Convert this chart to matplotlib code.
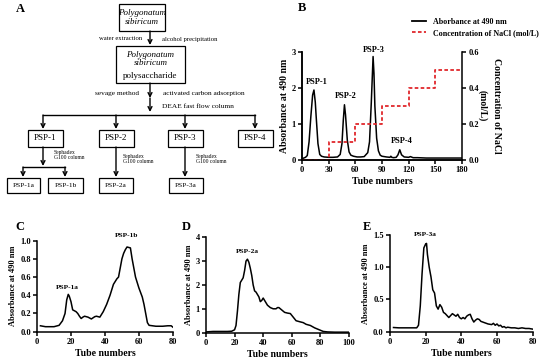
import numpy as np
import matplotlib
matplotlib.use('Agg')
import matplotlib.pyplot as plt
from matplotlib.lines import Line2D
from matplotlib.patches import Rectangle

plt.rcParams['font.family'] = ['Liberation Serif', 'DejaVu Serif']
plt.rcParams['font.weight'] = 'bold'
plt.rcParams['axes.linewidth'] = 1.1

# ---- panel B: DEAE elution ----
b_tube = [0, 2, 4, 6, 8, 10, 12, 13.5, 15, 16, 18, 20, 22, 25, 30, 35, 40, 43, 45, 46.5, 47.8, 49,
          51, 53, 55, 58, 62, 66, 70, 74, 76, 78, 80, 81, 82, 84, 86, 88, 90, 95, 99, 100, 101,
          103, 106, 108, 110, 112, 115, 120, 122, 125, 130, 140, 150, 160, 170, 180]
b_abs = [0.03, 0.05, 0.07, 0.12, 0.5, 1.2, 1.8, 1.94, 1.6, 1.2, 0.45, 0.15, 0.1, 0.08, 0.07, 0.07, 0.08,
         0.15, 0.45, 1.1, 1.53, 1.25, 0.55, 0.22, 0.13, 0.1, 0.08, 0.08, 0.09, 0.2, 0.5, 1.6, 2.87,
         2.4, 1.5, 0.6, 0.25, 0.13, 0.1, 0.08, 0.07, 0.1, 0.07, 0.06, 0.07, 0.14, 0.28, 0.14, 0.08,
         0.07, 0.09, 0.06, 0.06, 0.05, 0.05, 0.05, 0.05, 0.05]
nacl_tube = [0, 30, 30, 60, 60, 90, 90, 120, 120, 150, 150, 180]
nacl_conc = [0, 0, 0.1, 0.1, 0.2, 0.2, 0.3, 0.3, 0.4, 0.4, 0.5, 0.5]
b_peaks = ['PSP-1', 'PSP-2', 'PSP-3', 'PSP-4']
b_peak_x = [17, 49, 81, 112]
b_peak_y = [2.05, 1.65, 2.95, 0.42]

# ---- panel C: PSP-1 on Sephadex ----
c_tube = [2, 5, 10, 13, 15, 16.5, 17.5, 18.4, 19, 20, 21, 23, 24, 25, 26, 27, 28, 30, 32, 34, 35, 37,
          39, 41, 43, 45, 47, 48, 49, 50, 51, 52, 53, 55, 56, 58, 60, 62, 63, 64, 65, 66, 68, 70,
          74, 77, 79, 80]
c_abs = [0.065, 0.055, 0.055, 0.07, 0.12, 0.2, 0.35, 0.41, 0.39, 0.33, 0.24, 0.22, 0.2, 0.17, 0.145,
         0.16, 0.17, 0.16, 0.14, 0.165, 0.17, 0.16, 0.22, 0.3, 0.4, 0.52, 0.58, 0.6, 0.7, 0.8, 0.86,
         0.9, 0.93, 0.92, 0.8, 0.6, 0.48, 0.38, 0.3, 0.2, 0.1, 0.07, 0.065, 0.06, 0.06, 0.065,
         0.065, 0.05]

# ---- panel D: PSP-2 on Sephadex ----
d_tube = [0, 5, 10, 15, 18, 20, 21, 22, 23, 24, 26, 27, 28, 29, 30, 31, 32, 33, 34, 35, 36, 37, 38,
          39, 40, 41, 43, 45, 47, 49, 50, 51, 53, 55, 57, 59, 61, 63, 66, 68, 70, 73, 76, 78, 80,
          82, 85, 90, 95, 100]
d_abs = [0.03, 0.05, 0.05, 0.05, 0.06, 0.12, 0.3, 0.9, 1.6, 2.1, 2.3, 2.6, 3.0, 3.08, 2.95, 2.7,
         2.4, 2.0, 1.75, 1.7, 1.6, 1.5, 1.3, 1.35, 1.45, 1.35, 1.15, 1.05, 1.0, 1.0, 1.05, 1.05,
         0.95, 0.85, 0.82, 0.8, 0.65, 0.5, 0.45, 0.42, 0.35, 0.3, 0.2, 0.15, 0.1, 0.05, 0.03,
         0.02, 0.02, 0.02]

# ---- panel E: PSP-3 on Sephadex ----
e_tube = [2, 5, 10, 15, 16, 17, 18, 19, 20, 20.5, 21, 22, 23, 24, 25, 26, 27, 28, 29, 30, 31, 32,
          33, 34, 35, 36, 37, 38, 39, 40, 41, 42, 43, 44, 45, 46, 47, 48, 49, 50, 51, 53, 55, 57,
          58, 59, 60, 61, 62, 63, 64, 65, 66, 68, 70, 72, 74, 76, 78, 80]
e_abs = [0.065, 0.06, 0.06, 0.06, 0.1, 0.4, 0.9, 1.3, 1.36, 1.37, 1.2, 1.0, 0.85, 0.65, 0.6, 0.4,
         0.35, 0.42, 0.38, 0.3, 0.28, 0.25, 0.22, 0.25, 0.28, 0.26, 0.24, 0.27, 0.22, 0.2, 0.22,
         0.2, 0.24, 0.26, 0.27, 0.2, 0.15, 0.18, 0.2, 0.19, 0.16, 0.14, 0.12, 0.11, 0.13, 0.1,
         0.12, 0.09, 0.1, 0.07, 0.08, 0.06, 0.07, 0.06, 0.06, 0.05, 0.06, 0.05, 0.05, 0.04]

RED = '#e0282c'
TICK_FS = 6
LAB_FS = 7


def style_axis(ax):
    for s in ['top', 'right']:
        ax.spines[s].set_visible(False)
    ax.tick_params(direction='out', length=3, width=1.1, labelsize=TICK_FS, pad=1.5)
    for t in ax.get_xticklabels() + ax.get_yticklabels():
        t.set_fontweight('bold')


fig = plt.figure(figsize=(5.5, 3.6), dpi=100)

# ---- panel A: flowchart drawn in pixel coordinates ----
fa = fig.add_axes([0, 0, 1, 1])
fa.set_xlim(0, 550)
fa.set_ylim(360, 0)
fa.axis('off')


def box(x0, y0, x1, y1):
    fa.add_patch(Rectangle((x0, y0), x1 - x0, y1 - y0, fill=False, lw=0.9, ec='black'))


def arrow(x, y0, y1):
    fa.annotate('', xy=(x, y1), xytext=(x, y0),
                arrowprops=dict(arrowstyle='->', lw=1.0, color='black', shrinkA=0, shrinkB=0,
                                mutation_scale=7))


nb = dict(fontweight='normal', ha='center', va='center')
box(119, 4, 165, 31)
fa.text(142, 17.5, 'Polygonatum\nsibiricum', fontsize=6.5, style='italic', linespacing=1.1, **nb)
arrow(150, 31, 45)
fa.text(121, 39, 'water extraction', fontsize=4.8, **nb)
fa.text(190, 39, 'alcohol precipitation', fontsize=4.8, **nb)
box(116, 46, 185, 83)
fa.text(150.5, 59, 'Polygonatum\nsibiricum', fontsize=6.5, style='italic', linespacing=1.1, **nb)
fa.text(150.5, 76, 'polysaccharide', fontsize=6.5, **nb)
arrow(150, 83, 98)
fa.text(117, 93, 'sevage method', fontsize=5.3, **nb)
fa.text(204, 93, 'activated carbon adsorption', fontsize=5.3, **nb)
arrow(150, 98, 112)
fa.text(198, 107, 'DEAE fast flow column', fontsize=5.3, **nb)
fa.plot([43, 255], [115, 115], color='black', lw=1.0)
for xx in [43, 116, 185, 255]:
    arrow(xx, 115, 129)
for xx, lab in zip([45, 116, 185, 255], ['PSP-1', 'PSP-2', 'PSP-3', 'PSP-4']):
    box(xx - 17.5, 130, xx + 17.5, 147)
    fa.text(xx, 138.5, lab, fontsize=6.5, **nb)
arrow(43, 147, 166)
fa.plot([23, 65], [167, 167], color='black', lw=1.0)
arrow(23, 167, 177)
arrow(65, 167, 177)
arrow(116, 147, 177)
arrow(185, 147, 177)
for x0, x1, lab in [(7, 40, 'PSP-1a'), (48, 83, 'PSP-1b'), (99, 133, 'PSP-2a'), (169, 203, 'PSP-3a')]:
    box(x0, 178, x1, 193)
    fa.text((x0 + x1) / 2, 185.5, lab, fontsize=5.3, **nb)
for xx, yy in [(54, 155), (123, 159), (196, 159)]:
    fa.text(xx, yy, 'Sephadex\nG100 column', fontsize=4.0, fontweight='normal', ha='left',
            va='center', linespacing=1.1)
fa.text(20, 9, 'A', fontsize=9, fontweight='bold', ha='center', va='center')
fa.text(302, 8, 'B', fontsize=9, fontweight='bold', ha='center', va='center')
fa.text(20, 227, 'C', fontsize=9, fontweight='bold', ha='center', va='center')
fa.text(186, 227, 'D', fontsize=9, fontweight='bold', ha='center', va='center')
fa.text(367, 227, 'E', fontsize=9, fontweight='bold', ha='center', va='center')

# ---- panel B ----
axb = fig.add_axes([0.549, 0.556, 0.291, 0.3])
axb.plot(b_tube, b_abs, color='black', lw=1.1)
axb.set_xlim(0, 180)
axb.set_ylim(0, 3)
axb.set_xticks(np.arange(0, 181, 30))
axb.set_yticks([0, 1, 2, 3])
axb.set_ylabel('Absorbance at 490 nm', fontsize=LAB_FS, fontweight='bold', labelpad=2)
axb.set_xlabel('Tube numbers', fontsize=LAB_FS, fontweight='bold', labelpad=2)
for lab, px, py in zip(b_peaks, b_peak_x, b_peak_y):
    axb.text(px, py, lab, fontsize=6, fontweight='bold', ha='center', va='bottom')
axr = axb.twinx()
axr.plot(nacl_tube, nacl_conc, color=RED, lw=1.3, ls=(0, (2, 1.3)))
axr.set_ylim(0, 0.6)
axr.set_yticks([0.0, 0.2, 0.4, 0.6])
axr.set_yticklabels(['0.0', '0.2', '0.4', '0.6'])
axr.spines['top'].set_visible(False)
axr.tick_params(direction='out', length=3, width=1.1, labelsize=TICK_FS, pad=1.5)
for t in axr.get_yticklabels():
    t.set_fontweight('bold')
axr.set_ylabel('Concentration of NaCl\n(mol/L)', fontsize=LAB_FS, fontweight='bold',
               rotation=270, labelpad=16, linespacing=1.6)
style_axis(axb)
handles = [Line2D([], [], color='black', lw=1.3),
           Line2D([], [], color=RED, lw=1.3, ls=(0, (2, 1.3)))]
fig.legend(handles, ['Aborbance at 490 nm', 'Concentration of NaCl (mol/L)'],
           loc='upper left', bbox_to_anchor=(0.749, 0.95), frameon=False,
           prop={'size': 5.8, 'weight': 'bold'}, handlelength=1.8, handletextpad=0.8,
           labelspacing=0.35, borderaxespad=0, borderpad=0)

# ---- panel C ----
axc = fig.add_axes([0.0673, 0.0786, 0.247, 0.253])
axc.plot(c_tube, c_abs, color='black', lw=1.1)
axc.set_xlim(0, 80)
axc.set_ylim(0, 1.0)
axc.set_xticks([0, 20, 40, 60, 80])
axc.set_yticks(np.arange(0, 1.01, 0.2))
axc.set_yticklabels(['0.0', '0.2', '0.4', '0.6', '0.8', '1.0'])
axc.set_ylabel('Absorbance at 490 nm', fontsize=6, fontweight='bold', labelpad=2)
axc.set_xlabel('Tube numbers', fontsize=LAB_FS, fontweight='bold', labelpad=2)
axc.text(18, 0.46, 'PSP-1a', fontsize=5.3, fontweight='bold', ha='center', va='bottom')
axc.text(53, 1.03, 'PSP-1b', fontsize=5.3, fontweight='bold', ha='center', va='bottom')
style_axis(axc)

# ---- panel D ----
axd = fig.add_axes([0.3745, 0.076, 0.26, 0.265])
axd.plot(d_tube, d_abs, color='black', lw=1.1)
axd.set_xlim(0, 100)
axd.set_ylim(0, 4)
axd.set_xticks(np.arange(0, 101, 20))
axd.set_yticks([0, 1, 2, 3, 4])
axd.set_ylabel('Absorbance at 490 nm', fontsize=6, fontweight='bold', labelpad=2)
axd.set_xlabel('Tube numbers', fontsize=LAB_FS, fontweight='bold', labelpad=2)
axd.text(29, 3.3, 'PSP-2a', fontsize=5.3, fontweight='bold', ha='center', va='bottom')
style_axis(axd)

# ---- panel E ----
axe = fig.add_axes([0.709, 0.0786, 0.2595, 0.2686])
axe.plot(e_tube, e_abs, color='black', lw=1.1)
axe.set_xlim(0, 80)
axe.set_ylim(0, 1.5)
axe.set_xticks([0, 20, 40, 60, 80])
axe.set_yticks([0, 0.5, 1.0, 1.5])
axe.set_yticklabels(['0.0', '0.5', '1.0', '1.5'])
axe.set_ylabel('Absorbance at 490 nm', fontsize=6, fontweight='bold', labelpad=2)
axe.set_xlabel('Tube numbers', fontsize=LAB_FS, fontweight='bold', labelpad=2)
axe.text(20, 1.47, 'PSP-3a', fontsize=5.3, fontweight='bold', ha='center', va='bottom')
style_axis(axe)

fig.savefig('out.png', dpi=100)
